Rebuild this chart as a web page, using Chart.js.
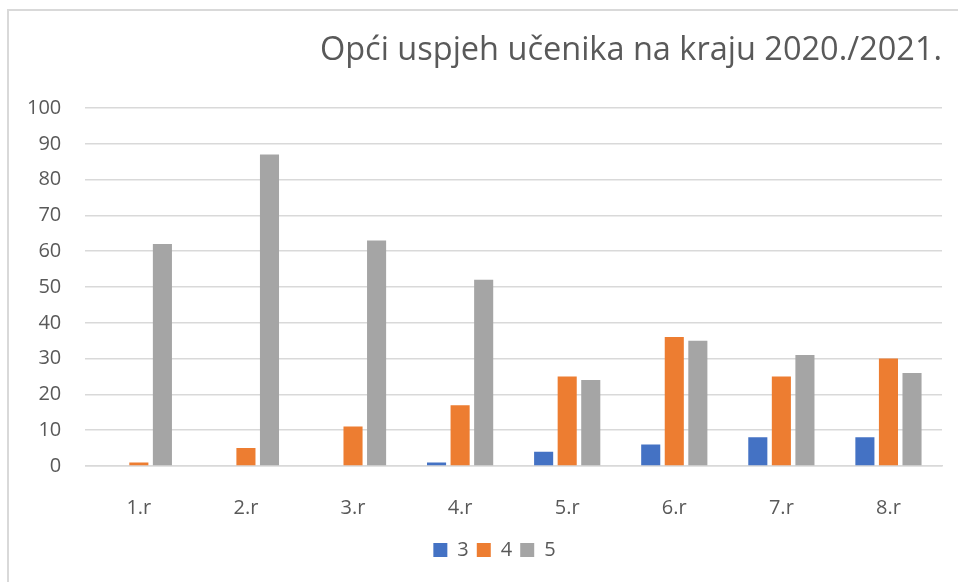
<!DOCTYPE html>
<html>
<head>
<meta charset="utf-8">
<script src="https://cdn.jsdelivr.net/npm/chart.js@4.4.1/dist/chart.umd.min.js"></script>
<style>
    html, body { margin: 0; padding: 0; background: #fff; }
    #okvir {
        position: relative;
        width: 958px;
        height: 582px;
        overflow: hidden;
    }
    #rub {
        position: absolute;
        left: 7px;
        top: 9px;
        width: 960px;
        height: 580px;
        border-left: 2px solid #d9d9d9;
        border-top: 2px solid #d9d9d9;
    }
    #uspjehChart { position: absolute; left: 0; top: 0; }
</style>
</head>
<body>
<div id="okvir">
    <div id="rub"></div>
    <canvas id="uspjehChart" width="958" height="582"></canvas>
</div>
<script>
// Podaci očitani s grafikona
const razredi = ['1.r', '2.r', '3.r', '4.r', '5.r', '6.r', '7.r', '8.r'];
const ocjena3 = [0, 0, 0, 1, 4, 6, 8, 8];
const ocjena4 = [1, 5, 11, 17, 25, 36, 25, 30];
const ocjena5 = [62, 87, 63, 52, 24, 35, 31, 26];

const boje = ['#4472C4', '#ED7D31', '#A5A5A5'];
const tekstBoja = '#595959';
const font = '"Open Sans", sans-serif';

const ctx = document.getElementById('uspjehChart').getContext('2d');

// legenda je u originalu centrirana ispod područja crtanja, ne ispod cijelog platna
const pomakLegende = {
    id: 'pomakLegende',
    afterLayout(chart) {
        chart.legend.left += 22;
        chart.legend.right += 22;
    }
};

new Chart(ctx, {
    type: 'bar',
    data: {
        labels: razredi,
        datasets: [
            { label: '3', data: ocjena3, backgroundColor: boje[0] },
            { label: '4', data: ocjena4, backgroundColor: boje[1] },
            { label: '5', data: ocjena5, backgroundColor: boje[2] }
        ]
    },
    plugins: [pomakLegende],
    options: {
        responsive: false,
        animation: false,
        categoryPercentage: 0.66,
        barPercentage: 0.81,
        layout: {
            padding: { top: 31, right: 16, bottom: 12, left: 3 }
        },
        plugins: {
            title: {
                display: true,
                text: 'Opći uspjeh učenika na kraju 2020./2021.',
                align: 'end',
                color: tekstBoja,
                font: { family: font, size: 32.5, weight: 'normal' },
                padding: { top: 0, bottom: 38 }
            },
            legend: {
                position: 'bottom',
                labels: {
                    color: tekstBoja,
                    font: { family: font, size: 20 },
                    boxWidth: 14,
                    boxHeight: 14,
                    padding: 8
                }
            },
            tooltip: { enabled: false }
        },
        scales: {
            x: {
                grid: { display: false },
                border: { color: '#d9d9d9', width: 1.5 },
                ticks: {
                    color: tekstBoja,
                    font: { family: font, size: 20 },
                    padding: 22
                },
                // malo stisnuti prostor ispod oznaka
                afterFit: function (scale) {
                    scale.height -= 10;
                }
            },
            y: {
                min: 0,
                max: 100,
                border: { display: false },
                grid: { color: '#d9d9d9', lineWidth: 1.5, drawTicks: false },
                ticks: {
                    stepSize: 10,
                    color: tekstBoja,
                    font: { family: font, size: 20 },
                    padding: 24
                }
            }
        }
    }
});
</script>
</body>
</html>
